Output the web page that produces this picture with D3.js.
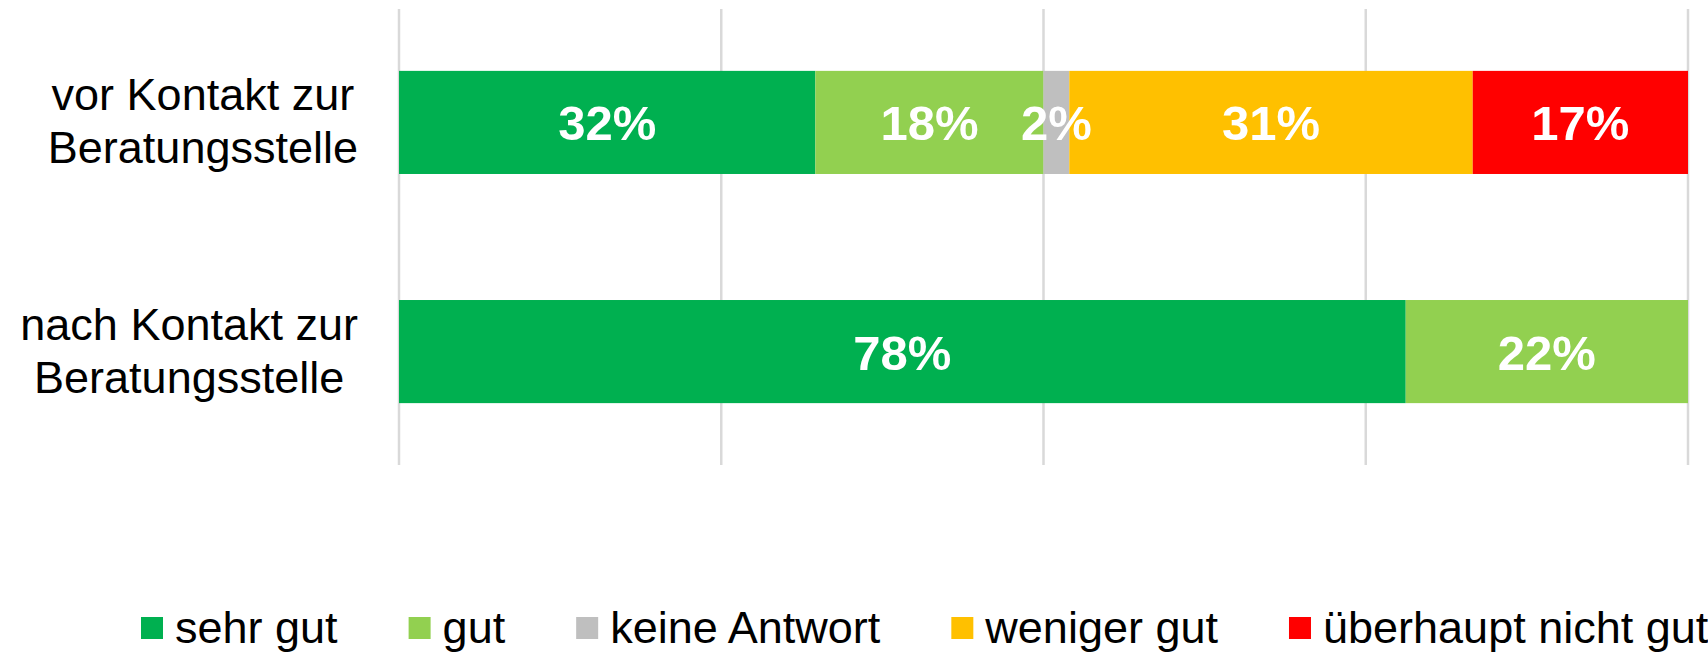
<!DOCTYPE html>
<html>
<head>
<meta charset="utf-8">
<script src="https://cdn.jsdelivr.net/npm/d3@7"></script>
<style>
  body { margin: 0; background: #fff; }
  svg { display: block; }
</style>
</head>
<body>
<div id="chart"></div>
<script>
var width = 1708, height = 654

var categories = ['vor Kontakt zur Beratungsstelle', 'nach Kontakt zur Beratungsstelle']
var categoryLines = [['vor Kontakt zur', 'Beratungsstelle'], ['nach Kontakt zur', 'Beratungsstelle']]
var seriesNames = ['sehr gut', 'gut', 'keine Antwort', 'weniger gut', 'überhaupt nicht gut']
var seriesColors = ['#00b050', '#92d050', '#bfbfbf', '#ffc000', '#ff0000']
// percent per series, one entry per category
var sehrGut = [32.3, 78.1]
var gut = [17.7, 21.9]
var keineAntwort = [2.0, 0]
var wenigerGut = [31.3, 0]
var nichtGut = [16.7, 0]
var xTicks = [0, 25, 50, 75, 100]

var series = [sehrGut, gut, keineAntwort, wenigerGut, nichtGut]

var svg = d3.select('#chart')
    .append('svg')
    .attr('width', width)
    .attr('height', height)
    .style('font-family', '"Liberation Sans", Arial, sans-serif')

var x = d3.scaleLinear().domain([0, 100]).range([399, 1688])
var y = d3.scaleBand().domain(categories).range([9, 465])
    .paddingInner(0.55).paddingOuter(0.27)

// gridlines
svg.append('g')
    .selectAll('line')
    .data(xTicks)
    .enter()
    .append('line')
    .attr('x1', function(d) { return x(d) })
    .attr('x2', function(d) { return x(d) })
    .attr('y1', 9)
    .attr('y2', 465)
    .attr('stroke', '#d9d9d9')
    .attr('stroke-width', 2.5)

// stacked segments
var segs = []
categories.forEach(function(c, ci) {
    var acc = 0
    series.forEach(function(s, si) {
        var v = s[ci]
        if (v > 0) segs.push({cat: c, s: si, x0: acc, x1: acc + v, v: v})
        acc += v
    })
})

svg.append('g')
    .selectAll('rect')
    .data(segs)
    .enter()
    .append('rect')
    .attr('x', function(d) { return x(d.x0) })
    .attr('width', function(d) { return x(d.x1) - x(d.x0) })
    .attr('y', function(d) { return y(d.cat) })
    .attr('height', y.bandwidth())
    .attr('fill', function(d) { return seriesColors[d.s] })

svg.append('g')
    .selectAll('text')
    .data(segs)
    .enter()
    .append('text')
    .attr('x', function(d) { return (x(d.x0) + x(d.x1)) / 2 })
    .attr('y', function(d) { return y(d.cat) + y.bandwidth() / 2 + 18 })
    .attr('text-anchor', 'middle')
    .attr('fill', '#fff')
    .attr('font-weight', 'bold')
    .attr('font-size', '49px')
    .text(function(d) { return Math.round(d.v) + '%' })

// category labels: block right-aligned, lines centered inside block
var labelRight = 358
categories.forEach(function(c, ci) {
    var g = svg.append('g')
    var cy = y(c) + y.bandwidth() / 2
    var texts = g.selectAll('text')
        .data(categoryLines[ci])
        .enter()
        .append('text')
        .attr('y', function(d, i) { return cy - 12 + i * 53 })
        .attr('font-size', '45px')
        .attr('fill', '#000')
        .attr('text-anchor', 'middle')
        .text(function(d) { return d })
    var maxW = 0
    texts.each(function() { maxW = Math.max(maxW, this.getComputedTextLength()) })
    texts.attr('x', labelRight - maxW / 2)
})

// legend
var legend = svg.append('g')
var lx = 141
seriesNames.forEach(function(name, i) {
    legend.append('rect')
        .attr('x', lx)
        .attr('y', 617)
        .attr('width', 22)
        .attr('height', 22)
        .attr('fill', seriesColors[i])
    var t = legend.append('text')
        .attr('x', lx + 34)
        .attr('y', 643)
        .attr('font-size', '45px')
        .attr('fill', '#000')
        .text(name)
    lx += 34 + t.node().getComputedTextLength() + 71
})
</script>
</body>
</html>
